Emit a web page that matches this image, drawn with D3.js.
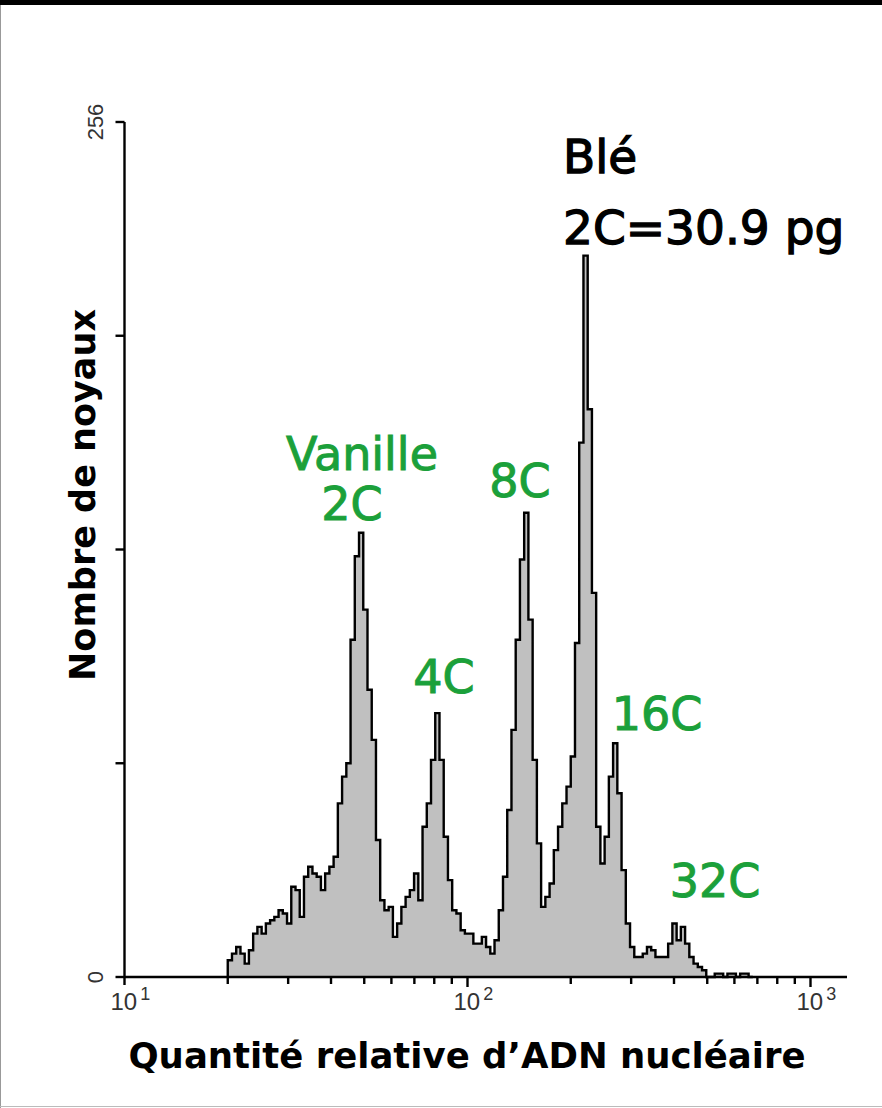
<!DOCTYPE html>
<html>
<head>
<meta charset="utf-8">
<script src="https://cdn.jsdelivr.net/npm/d3@7"></script>
<style>
  body { margin: 0; background: #fff; }
</style>
</head>
<body>
<script>
// histogram channels (log scale), counts
const binStart = 20;        // DNA value at left edge of first channel
const binsPerDecade = 81;
const counts = [
  5, 7, 9, 7, 4, 8, 13, 15, 13, 16,
  17, 18, 20, 19, 16, 27, 26, 18, 30, 33,
  31, 30, 26, 31, 33, 36, 52, 60, 64, 101,
  126, 133, 110, 86, 71, 41, 23, 20, 21, 12,
  16, 21, 24, 26, 31, 23, 45, 52, 65, 79,
  65, 42, 29, 20, 19, 14, 13, 13, 10, 10,
  12, 9, 7, 11, 20, 30, 50, 74, 101, 125,
  139, 107, 65, 40, 21, 24, 28, 38, 45, 52,
  57, 66, 100, 160, 216, 170, 115, 45, 34, 42,
  60, 70, 55, 32, 16, 9, 6, 6, 7, 9,
  8, 6, 6, 6, 10, 16, 11, 15, 10, 6,
  4, 3, 2, 0, 0, 1, 1, 0, 1, 1,
  0, 1, 1, 0
];

const yTicks = [0, 64, 128, 192, 256];
const yLabelTicks = [0, 256];
const xMajor = [10, 100, 1000];
const xMajorExp = ["1", "2", "3"];
const xMinor = [20, 30, 40, 50, 60, 70, 80, 90, 200, 300, 400, 500, 600, 700, 800, 900];

const peakNames = ["Vanille", "2C", "4C", "8C", "16C", "32C"];
const refNames = ["Blé", "2C=30.9 pg"];

const W = 882, H = 1108;
const svg = d3.select("body").append("svg")
  .attr("width", W)
  .attr("height", H);

// frame
svg.append("rect").attr("x", 0).attr("y", 0).attr("width", W).attr("height", 5).attr("fill", "#000");
svg.append("line").attr("x1", 0.5).attr("x2", 0.5).attr("y1", 5).attr("y2", H).attr("stroke", "#999");
svg.append("line").attr("x1", 0).attr("x2", W).attr("y1", H - 1.5).attr("y2", H - 1.5).attr("stroke", "#bbb");

var x = d3.scaleLog()
  .domain([10, 1000])
  .range([124.5, 810.5]);

var y = d3.scaleLinear()
  .domain([0, 256])
  .range([977, 122]);

// histogram as steps
var pts = [{v: binStart, c: 0}];
counts.forEach(function(c, i) {
  pts.push({v: binStart * Math.pow(10, i / binsPerDecade), c: c});
});
pts.push({v: binStart * Math.pow(10, counts.length / binsPerDecade), c: 0});

var area = d3.area()
  .curve(d3.curveStepAfter)
  .x(d => x(d.v))
  .y0(y(0))
  .y1(d => y(d.c));

var line = d3.line()
  .curve(d3.curveStepAfter)
  .x(d => x(d.v))
  .y(d => y(d.c));

svg.append("path")
  .datum(pts)
  .attr("fill", "#c0c0c0")
  .attr("d", area);

svg.append("path")
  .datum(pts)
  .attr("fill", "none")
  .attr("stroke", "#000")
  .attr("stroke-width", 2.4)
  .attr("stroke-linejoin", "miter")
  .attr("d", line);

// x axis
var gx = svg.append("g").attr("transform", "translate(0," + y(0) + ")");
gx.append("line")
  .attr("x1", x(10)).attr("x2", 847)
  .attr("stroke", "#000").attr("stroke-width", 2.4);

gx.selectAll(".minor")
  .data(xMinor)
  .enter().append("line")
  .attr("class", "minor")
  .attr("x1", d => x(d)).attr("x2", d => x(d))
  .attr("y1", 0).attr("y2", 7)
  .attr("stroke", "#000").attr("stroke-width", 2.4);

gx.selectAll(".major")
  .data(xMajor.slice(1))
  .enter().append("line")
  .attr("class", "major")
  .attr("x1", d => x(d)).attr("x2", d => x(d))
  .attr("y1", 0).attr("y2", 10)
  .attr("stroke", "#000").attr("stroke-width", 2.4);

var xl = gx.selectAll(".xlab")
  .data(xMajor)
  .enter().append("text")
  .attr("class", "xlab")
  .attr("x", d => x(d) - 14)
  .attr("y", 33)
  .attr("font-family", "Liberation Sans, Arial, sans-serif")
  .attr("font-size", 24)
  .attr("fill", "#333");
xl.append("tspan").text("10");
xl.append("tspan")
  .attr("dx", 3)
  .attr("dy", -10)
  .attr("font-size", 18)
  .text((d, i) => xMajorExp[i]);

// y axis
var gy = svg.append("g").attr("transform", "translate(" + x(10) + ",0)");
gy.append("line")
  .attr("y1", y(256)).attr("y2", y(0) + 8)
  .attr("stroke", "#000").attr("stroke-width", 2.4);
gy.selectAll(".ytick")
  .data(yTicks)
  .enter().append("line")
  .attr("class", "ytick")
  .attr("x1", -9).attr("x2", 0)
  .attr("y1", d => y(d)).attr("y2", d => y(d))
  .attr("stroke", "#000").attr("stroke-width", 2.4);

gy.selectAll(".ylab")
  .data(yLabelTicks)
  .enter().append("text")
  .attr("class", "ylab")
  .attr("transform", d => "translate(-22," + y(d) + ") rotate(-90)")
  .attr("text-anchor", "middle")
  .attr("font-family", "Liberation Sans, Arial, sans-serif")
  .attr("font-size", 22)
  .attr("fill", "#333")
  .text(d => d);

// axis titles
svg.append("text")
  .attr("transform", "translate(95,495) rotate(-90)")
  .attr("text-anchor", "middle")
  .attr("font-family", "DejaVu Sans, sans-serif")
  .attr("font-weight", "bold")
  .attr("font-size", 35)
  .attr("fill", "#000")
  .text("Nombre de noyaux");

svg.append("text")
  .attr("x", 467)
  .attr("y", 1068)
  .attr("text-anchor", "middle")
  .attr("font-family", "DejaVu Sans, sans-serif")
  .attr("font-weight", "bold")
  .attr("font-size", 35.5)
  .attr("fill", "#000")
  .text("Quantité relative d’ADN nucléaire");

// peak annotations
var green = "#1ba03a";
var peakPos = [[362, 470], [352, 520], [444, 693], [520, 497], [657, 730], [715, 897]];
svg.selectAll(".peak")
  .data(peakNames)
  .enter().append("text")
  .attr("class", "peak")
  .attr("x", (d, i) => peakPos[i][0])
  .attr("y", (d, i) => peakPos[i][1])
  .attr("text-anchor", "middle")
  .attr("font-family", "DejaVu Sans, sans-serif")
  .attr("font-size", 46)
  .attr("fill", green)
  .attr("stroke", green)
  .attr("stroke-width", 1)
  .text(d => d);

svg.selectAll(".ref")
  .data(refNames)
  .enter().append("text")
  .attr("class", "ref")
  .attr("x", 563)
  .attr("y", (d, i) => i === 0 ? 173 : 244)
  .attr("font-family", "DejaVu Sans, sans-serif")
  .attr("font-size", 47)
  .attr("fill", "#000")
  .attr("stroke", "#000")
  .attr("stroke-width", 1.3)
  .text(d => d);
</script>
</body>
</html>
